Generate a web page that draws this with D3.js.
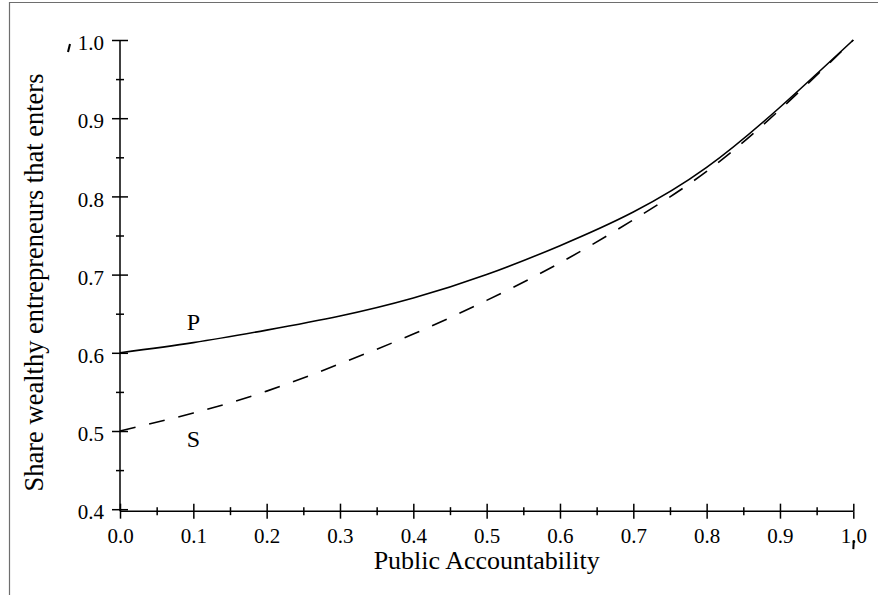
<!DOCTYPE html>
<html>
<head>
<meta charset="utf-8">
<script src="https://cdn.jsdelivr.net/npm/d3@7"></script>
<style>
  html, body { margin: 0; padding: 0; background: #fff; }
  svg { display: block; }
  text { font-family: "Liberation Serif", "Times New Roman", serif; fill: #000; }
</style>
</head>
<body>
<svg id="chart" width="878" height="595"></svg>
<script>
// Public accountability (x) against the share of wealthy entrepreneurs that enter (y)
const accountability = [0.0, 0.1, 0.2, 0.3, 0.4, 0.5, 0.6, 0.7, 0.8, 0.9, 1.0];
const shareP = [0.600, 0.613, 0.629, 0.647, 0.670, 0.700, 0.737, 0.780, 0.837, 0.914, 1.000];
const shareS = [0.500, 0.523, 0.551, 0.586, 0.624, 0.667, 0.715, 0.770, 0.832, 0.911, 1.000];

const xMajorTicks = [0.0, 0.1, 0.2, 0.3, 0.4, 0.5, 0.6, 0.7, 0.8, 0.9, 1.0];
const xMinorTicks = [0.05, 0.15, 0.25, 0.35, 0.45, 0.55, 0.65, 0.75, 0.85, 0.95];
const yMajorTicks = [0.4, 0.5, 0.6, 0.7, 0.8, 0.9, 1.0];
const yMinorTicks = [0.45, 0.55, 0.65, 0.75, 0.85, 0.95];

const curveLabels = [
  { name: "P", x: 0.1, y: 0.629 },
  { name: "S", x: 0.1, y: 0.480 }
];

const xTitle = "Public Accountability";
const yTitle = "Share wealthy entrepreneurs that enters";

const svg = d3.select("#chart");

const x = d3.scaleLinear().domain([0, 1]).range([120, 853.3]);
const y = d3.scaleLinear().domain([0.4, 1.0]).range([509.2, 40]);
const yAxisFloor = 0.3975; // the horizontal axis sits just under 0.4

// outer frame (top and left edges)
svg.append("path")
  .attr("d", "M9.5,595 L9.5,2.5 L878,2.5")
  .attr("fill", "none")
  .attr("stroke", "#6e6e6e")
  .attr("stroke-width", 1.2);

const axisStroke = 1.5;
function styleAxis(g) {
  g.select(".domain").remove();
  g.attr("font-size", 21).attr("font-family", null);
  g.selectAll(".tick line").attr("stroke", "#000").attr("stroke-width", axisStroke);
  g.selectAll(".tick text")
    .style("font-size", "21px")
    .attr("fill", "#000");
}

const xAxisY = y(yAxisFloor);

// vertical axis: major ticks cross the line, labels on the left
svg.append("g").attr("transform", `translate(${x(0)},0)`)
  .call(d3.axisLeft(y).tickValues(yMajorTicks).tickSize(8).tickPadding(8).tickFormat(d3.format(".1f")))
  .call(styleAxis)
  .call(g => g.selectAll(".tick text").attr("dy", "0.46em"));
svg.append("g").attr("transform", `translate(${x(0)},0)`)
  .call(d3.axisRight(y).tickValues(yMajorTicks).tickSize(8).tickFormat(""))
  .call(styleAxis);
svg.append("g").attr("transform", `translate(${x(0)},0)`)
  .call(d3.axisLeft(y).tickValues(yMinorTicks).tickSize(4).tickFormat(""))
  .call(styleAxis);
svg.append("g").attr("transform", `translate(${x(0)},0)`)
  .call(d3.axisRight(y).tickValues(yMinorTicks).tickSize(4).tickFormat(""))
  .call(styleAxis);

// horizontal axis
svg.append("g").attr("transform", `translate(0,${xAxisY})`)
  .call(d3.axisBottom(x).tickValues(xMajorTicks).tickSize(7.5).tickFormat(d3.format(".1f")))
  .call(styleAxis)
  .call(g => g.selectAll(".tick text").attr("y", 0).attr("dy", 0)
    .attr("transform", `translate(0,${543 - xAxisY})`));
svg.append("g").attr("transform", `translate(0,${xAxisY})`)
  .call(d3.axisTop(x).tickValues(xMajorTicks).tickSize(7.5).tickFormat(""))
  .call(styleAxis);
svg.append("g").attr("transform", `translate(0,${xAxisY})`)
  .call(d3.axisBottom(x).tickValues(xMinorTicks).tickSize(4).tickFormat(""))
  .call(styleAxis);
svg.append("g").attr("transform", `translate(0,${xAxisY})`)
  .call(d3.axisTop(x).tickValues(xMinorTicks).tickSize(4).tickFormat(""))
  .call(styleAxis);

// axis lines
svg.append("line")
  .attr("x1", x(0)).attr("x2", x(0))
  .attr("y1", y(1.0)).attr("y2", xAxisY)
  .attr("stroke", "#000").attr("stroke-width", axisStroke);
svg.append("line")
  .attr("x1", x(0)).attr("x2", x(1))
  .attr("y1", xAxisY).attr("y2", xAxisY)
  .attr("stroke", "#000").attr("stroke-width", axisStroke);

// small stray marks beside the 1.0 labels
svg.append("path")
  .attr("d", `M${x(0) - 50},${y(1.0) + 4} L${x(0) - 52},${y(1.0) + 12}`)
  .attr("stroke", "#000").attr("stroke-width", 2).attr("fill", "none");
svg.append("path")
  .attr("d", `M${x(1) + 0.5},${xAxisY + 29} L${x(1)},${xAxisY + 38}`)
  .attr("stroke", "#000").attr("stroke-width", 2).attr("fill", "none");

// curves
const line = d3.line()
  .x((d, i) => x(accountability[i]))
  .y(d => y(d))
  .curve(d3.curveNatural);

svg.append("path")
  .datum(shareP)
  .attr("d", line)
  .attr("fill", "none")
  .attr("stroke", "#000")
  .attr("stroke-width", 1.6);

svg.append("path")
  .datum(shareS)
  .attr("d", line)
  .attr("fill", "none")
  .attr("stroke", "#000")
  .attr("stroke-width", 1.6)
  .attr("stroke-dasharray", "16,14");

// curve names
svg.selectAll("text.curve-label")
  .data(curveLabels)
  .enter().append("text")
  .attr("class", "curve-label")
  .attr("x", d => x(d.x))
  .attr("y", d => y(d.y))
  .attr("text-anchor", "middle")
  .style("font-size", "24px")
  .text(d => d.name);

// axis titles
svg.append("text")
  .attr("x", (x(0) + x(1)) / 2)
  .attr("y", 569)
  .attr("text-anchor", "middle")
  .style("font-size", "26px")
  .text(xTitle);

svg.append("text")
  .attr("transform", "translate(43,282.5) rotate(-90)")
  .attr("text-anchor", "middle")
  .style("font-size", "26.5px")
  .text(yTitle);
</script>
</body>
</html>
